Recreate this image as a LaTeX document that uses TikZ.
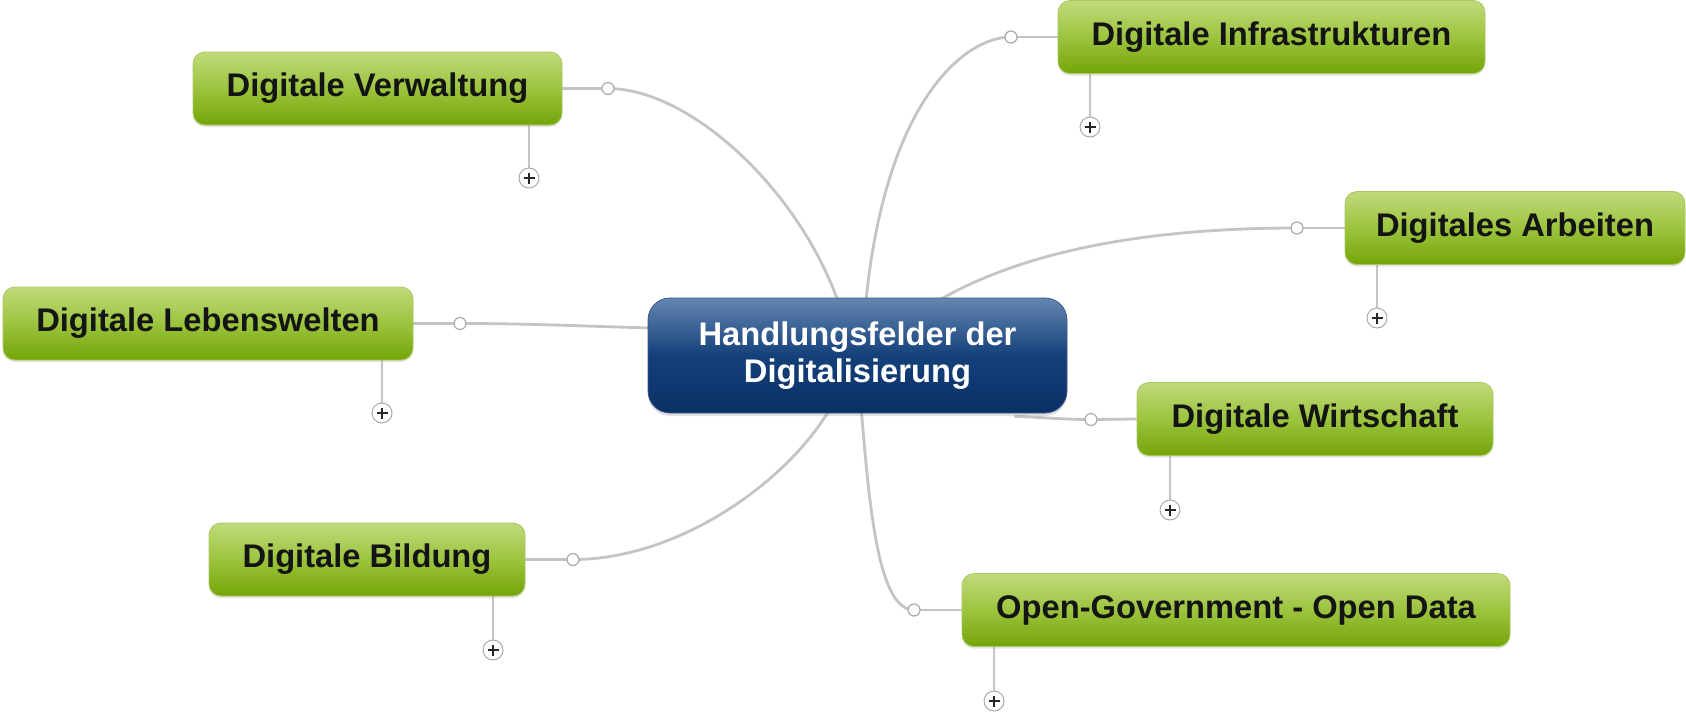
\documentclass[tikz,border=0pt]{standalone}
\usepackage{fontspec}
\setmainfont{Liberation Sans}
\usetikzlibrary{backgrounds,shadows,calc}
\definecolor{gtop}{RGB}{192,218,124}
\definecolor{gmid}{RGB}{156,196,62}
\definecolor{gbot}{RGB}{116,164,8}
\definecolor{gedge}{RGB}{170,200,96}
\definecolor{btop}{RGB}{100,134,178}
\definecolor{bmid}{RGB}{20,64,122}
\definecolor{bbot}{RGB}{10,48,102}
\definecolor{conn}{RGB}{196,196,196}
\definecolor{knobedge}{RGB}{170,170,170}
\begin{document}
\begin{tikzpicture}[x=1pt,y=-1pt,
  topic/.style={rounded corners=12pt, top color=gtop, bottom color=gbot, middle color=gmid,
    draw=gedge, line width=0.8pt, inner sep=0pt, minimum height=73pt,
    font=\fontsize{32.7}{37}\selectfont\bfseries, text=black!92,
    drop shadow={shadow xshift=0pt, shadow yshift=-2pt, opacity=0.22}},
  hubstyle/.style={rounded corners=22pt, top color=btop, bottom color=bbot, middle color=bmid,
    draw=bbot!80!white, line width=0.8pt, inner sep=0pt, minimum width=419pt, minimum height=115pt,
    align=center, font=\fontsize{32.7}{37}\selectfont\bfseries, text=white,
    drop shadow={shadow xshift=0pt, shadow yshift=-3pt, opacity=0.25}},
  knob/.style={circle, fill=white, draw=knobedge, line width=1.2pt, inner sep=0pt, minimum size=12pt},
  expander/.style={circle, fill=white, draw=knobedge, line width=1pt, inner sep=0pt, minimum size=20pt,
    path picture={
      \draw[line width=1.7pt, black!85] ([xshift=-5.5pt]path picture bounding box.center) -- ([xshift=5.5pt]path picture bounding box.center);
      \draw[line width=1.7pt, black!85] ([yshift=-5.5pt]path picture bounding box.center) -- ([yshift=5.5pt]path picture bounding box.center);
    }},
  connector/.style={draw=conn, line width=2.8pt},
  stem/.style={draw=conn, line width=2pt}
]
\useasboundingbox (0,0) rectangle (1686,715);

% hub
\node[hubstyle] (hub) at (857.5,355.5) {Handlungsfelder der\\Digitalisierung};

% topics
\node[topic, minimum width=369pt] (tV) at (377.5,88.5) {Digitale Verwaltung};
\node[topic, minimum width=410pt] (tL) at (208,323.5) {Digitale Lebenswelten};
\node[topic, minimum width=316pt] (tB) at (367,559.5) {Digitale Bildung};
\node[topic, minimum width=427pt] (tI) at (1271.5,37) {Digitale Infrastrukturen};
\node[topic, minimum width=340pt] (tA) at (1515,228) {Digitales Arbeiten};
\node[topic, minimum width=356pt] (tW) at (1315,419) {Digitale Wirtschaft};
\node[topic, minimum width=548pt] (tO) at (1236,610) {Open-Government - Open Data};

% knobs
\node[knob] (kV) at (608,88.5) {};
\node[knob] (kL) at (460,323.5) {};
\node[knob] (kB) at (573,559.5) {};
\node[knob] (kI) at (1011,37) {};
\node[knob] (kA) at (1297,228) {};
\node[knob] (kW) at (1091,419.5) {};
\node[knob] (kO) at (914,610) {};

% expanders
\node[expander] (pV) at (529,178) {};
\node[expander] (pL) at (382,413) {};
\node[expander] (pB) at (493,650) {};
\node[expander] (pI) at (1090,127) {};
\node[expander] (pA) at (1377,318) {};
\node[expander] (pW) at (1170,510) {};
\node[expander] (pO) at (994,701) {};

% hub end points
\coordinate (hV) at ([xshift=-18pt,yshift=-8pt]hub.north);
\coordinate (hI) at ([xshift=8pt,yshift=-8pt]hub.north);
\coordinate (hA) at ([xshift=72.5pt,yshift=-8pt]hub.north);
\coordinate (hL) at ([xshift=8pt,yshift=27.5pt]hub.west);
\coordinate (hB) at ([xshift=-25.5pt,yshift=8pt]hub.south);
\coordinate (hO) at ([xshift=3.5pt,yshift=8pt]hub.south);
\coordinate (hW) at ([xshift=157pt,yshift=-3pt]hub.south);

\begin{scope}[on background layer]
  \fill[white] (0,0) rectangle (1686,715);
  % stems to expanders
  \draw[stem] (tV.south -| pV) -- (pV);
  \draw[stem] (tL.south -| pL) -- (pL);
  \draw[stem] (tB.south -| pB) -- (pB);
  \draw[stem] (tI.south -| pI) -- (pI);
  \draw[stem] (tA.south -| pA) -- (pA);
  \draw[stem] (tW.south -| pW) -- (pW);
  \draw[stem] (tO.south -| pO) -- (pO);
  % short links topic - knob
  \draw[connector] (tV.east) -- (kV.center);
  \draw[connector] (tL.east) -- (kL.center);
  \draw[connector] (tB.east) -- (kB.center);
  \draw[connector] (tI.west) -- (kI.center);
  \draw[connector] (tA.west) -- (kA.center);
  \draw[connector] (tW.west) -- (kW.center);
  \draw[connector] (tO.west) -- (kO.center);
  % curves knob - hub
  \draw[connector] (kV.center) .. controls (690,88.5) and (800,190) .. (hV);
  \draw[connector] (kI.center) .. controls (965,37) and (885,100) .. (hI);
  \draw[connector] (kA.center) .. controls (1150,228) and (1020,250) .. (hA);
  \draw[connector] (kL.center) .. controls (540,323.5) and (600,327) .. (hL);
  \draw[connector] (kB.center) .. controls (680,559.5) and (790,480) .. (hB);
  \draw[connector] (kO.center) .. controls (880,610) and (870,520) .. (hO);
  \draw[connector] (kW.center) .. controls (1060,419.5) and (1040,417) .. (hW);
\end{scope}
\end{tikzpicture}
\end{document}
